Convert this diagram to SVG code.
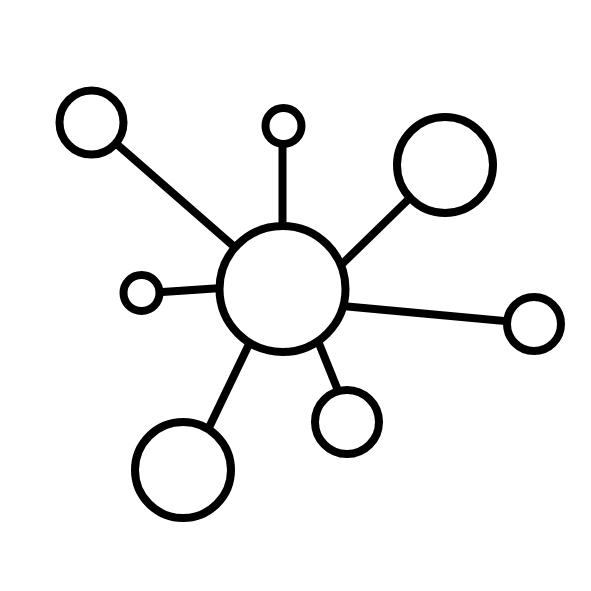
<svg xmlns="http://www.w3.org/2000/svg" width="591" height="591" viewBox="0 0 591 591">
<style>
.e{stroke:#000;stroke-width:8;fill:none}
.n{stroke:#000;stroke-width:8;fill:#fff}
</style>
<rect width="591" height="591" fill="#fff"/>
<g id="connectors">
<line class="e" x1="112" y1="140" x2="238" y2="250"/>
<line class="e" x1="282.5" y1="140" x2="282.5" y2="228"/>
<line class="e" x1="338" y1="268" x2="418" y2="190"/>
<line class="e" x1="155" y1="292.5" x2="222" y2="288"/>
<line class="e" x1="342" y1="306" x2="515" y2="322"/>
<line class="e" x1="252" y1="338" x2="203" y2="440"/>
<line class="e" x1="316" y1="336" x2="341" y2="398"/>
</g>
<g id="hub"><circle class="n" cx="282.5" cy="289" r="63"/></g>
<g id="n-topleft"><circle class="n" cx="91.5" cy="122.5" r="32"/></g>
<g id="n-top"><circle class="n" cx="283.5" cy="126" r="18"/></g>
<g id="n-topright"><circle class="n" cx="445" cy="165" r="48"/></g>
<g id="n-left"><circle class="n" cx="141.5" cy="293" r="18"/></g>
<g id="n-right"><circle class="n" cx="534" cy="324" r="27"/></g>
<g id="n-bottomleft"><circle class="n" cx="183" cy="470" r="48"/></g>
<g id="n-bottomright"><circle class="n" cx="347" cy="422" r="32"/></g>
</svg>
